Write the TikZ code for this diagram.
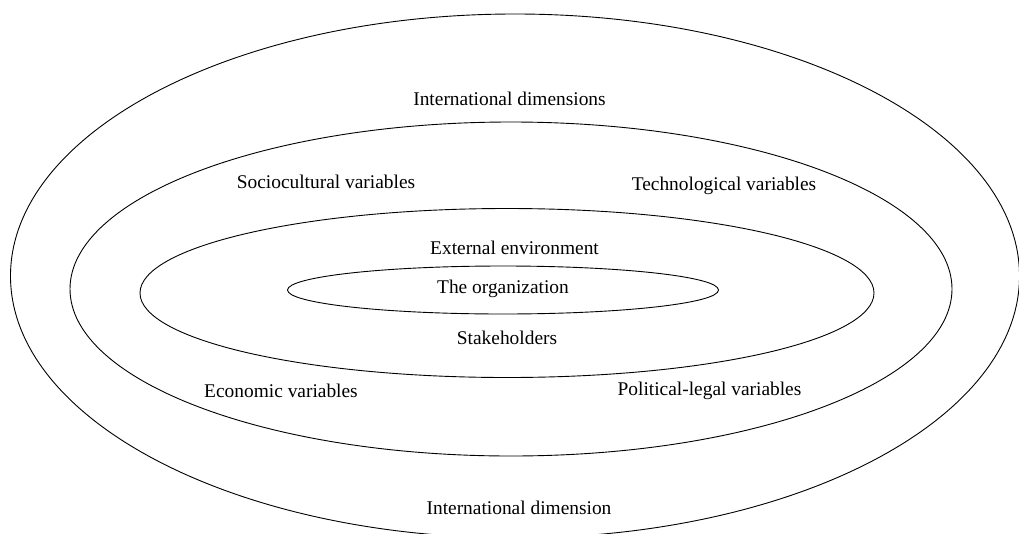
\documentclass[tikz,border=0pt]{standalone}
\usepackage{fontspec}
\setmainfont{Liberation Serif}
\begin{document}
\begin{tikzpicture}[x=1pt,y=-1pt,
  ring/.style={draw=black,line width=0.9pt},
  lbl/.style={font=\fontsize{19.4pt}{22pt}\selectfont,inner sep=0pt,anchor=center}]
\useasboundingbox (0,0) rectangle (1019,533);
\begin{scope}
\clip (0,0) rectangle (1019,533);
\draw[ring] (515,276) ellipse [x radius=504.5pt, y radius=262pt];
\draw[ring] (511,289) ellipse [x radius=441pt, y radius=167pt];
\draw[ring] (507,293) ellipse [x radius=367pt, y radius=84.5pt];
\draw[ring] (503,290) ellipse [x radius=215.5pt, y radius=24pt];
\end{scope}
\node[lbl] (intA) at (509.5,99) {International dimensions};
\node[lbl] (socio) at (326,182) {Sociocultural variables};
\node[lbl] (tech) at (724,186) {Technological variables};
\node[lbl] (ext) at (514.5,248) {External environment};
\node[lbl] (org) at (503,289) {The organization};
\node[lbl] (stake) at (507,338) {Stakeholders};
\node[lbl] (econ) at (281,390.5) {Economic variables};
\node[lbl] (pol) at (709.5,390.5) {Political-legal variables};
\node[lbl] (intB) at (519,507.5) {International dimension};
\end{tikzpicture}
\end{document}
